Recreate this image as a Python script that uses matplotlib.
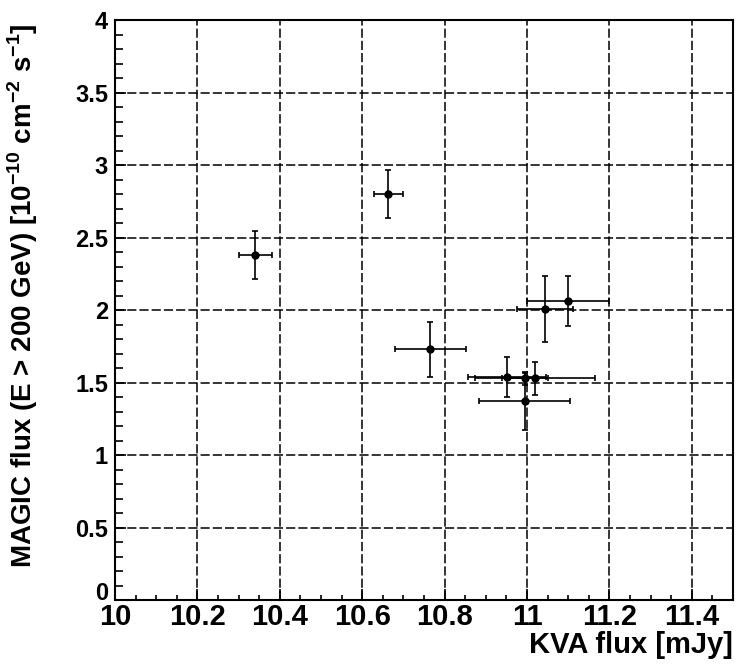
import matplotlib
matplotlib.use('Agg')
import numpy as np
import matplotlib.pyplot as plt
from matplotlib.ticker import MultipleLocator

plt.rcParams['font.family'] = ['Liberation Sans', 'DejaVu Sans']
plt.rcParams['mathtext.fontset'] = 'custom'
plt.rcParams['mathtext.bf'] = 'Liberation Sans:bold'

# KVA optical flux vs MAGIC flux
kva_flux = [10.341, 10.663, 10.765, 11.044, 11.100, 10.952, 10.995, 11.020, 10.994]
kva_err = [0.041, 0.035, 0.086, 0.067, 0.099, 0.095, 0.055, 0.145, 0.110]
magic_flux = [2.38, 2.80, 1.73, 2.01, 2.06, 1.54, 1.53, 1.53, 1.37]
magic_err = [0.166, 0.166, 0.19, 0.227, 0.172, 0.138, 0.045, 0.115, 0.195]

xticklabels = ['10', '10.2', '10.4', '10.6', '10.8', '11', '11.2', '11.4']
yticklabels = ['0', '0.5', '1', '1.5', '2', '2.5', '3', '3.5', '4']

fig = plt.figure(figsize=(7.5, 6.68), dpi=100)
ax = fig.add_axes([0.1533, 0.1018, 0.824, 0.868])

ax.errorbar(kva_flux, magic_flux, xerr=kva_err, yerr=magic_err, fmt='o',
            color='black', ms=5, elinewidth=1.2, capsize=2.5, capthick=1.2,
            zorder=3)

ax.set_xlim(10, 11.5)
ax.set_ylim(0, 4)
ax.xaxis.set_minor_locator(MultipleLocator(0.05))
ax.yaxis.set_minor_locator(MultipleLocator(0.1))
ax.set_xticks(np.arange(10, 11.45, 0.2))
ax.set_xticklabels(xticklabels, fontsize=21, fontweight='bold')
ax.set_yticks(np.arange(0, 4.01, 0.5))
ax.set_yticklabels(yticklabels, fontsize=17, fontweight='bold')
ax.get_yticklabels()[0].set_va('baseline')

ax.grid(True, which='major', color='black', linewidth=1.1,
        linestyle=(0, (6, 2)), zorder=1)
ax.tick_params(which='both', direction='in', top=False, right=False, width=1.2)
ax.tick_params(axis='x', which='major', length=8, pad=2)
ax.tick_params(axis='x', which='minor', length=3.8)
ax.tick_params(axis='y', which='major', length=8, pad=5)
ax.tick_params(axis='y', which='minor', length=5.5)
for s in ax.spines.values():
    s.set_linewidth(1.5)

ax.set_xlabel('KVA flux [mJy]', fontsize=21, fontweight='bold', loc='right',
              labelpad=0)
ax.set_ylabel(r'MAGIC flux (E > 200 GeV) [10$^{\mathbf{-10}}$ cm$^{\mathbf{-2}}$ s$^{\mathbf{-1}}$]',
              fontsize=20, fontweight='bold')
ax.yaxis.set_label_coords(-0.121, 0.524)

plt.savefig('out.png', dpi=100)
